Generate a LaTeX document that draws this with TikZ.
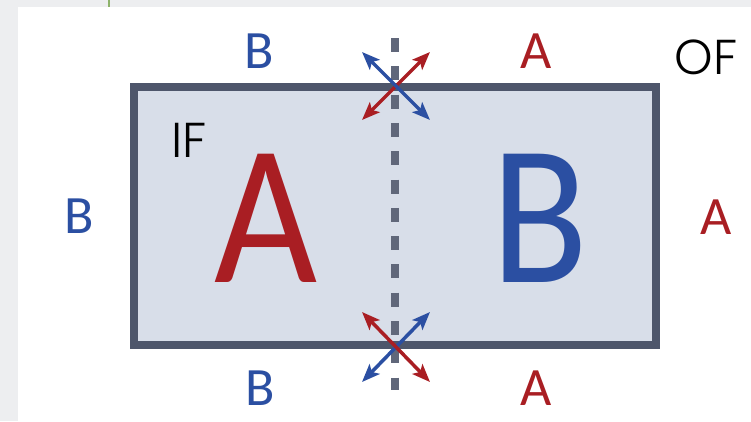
\documentclass[tikz,border=0pt]{standalone}
\usepackage{fontspec}
\setmainfont{Carlito}
\newfontfamily\thinfont{Poppins Light}
\usetikzlibrary{arrows.meta}
\definecolor{redA}{HTML}{A91E23}
\definecolor{blueB}{HTML}{2B4FA2}
\definecolor{edge}{HTML}{4E566B}
\definecolor{inside}{HTML}{D8DEE9}
\definecolor{page}{HTML}{EDEEF0}
\definecolor{tab}{HTML}{8DB26A}
\begin{document}
\begin{tikzpicture}[x=1pt,y=-1pt,
  small/.style={font=\fontsize{54}{54}\selectfont, inner sep=0pt},
  big/.style={font=\fontsize{200}{200}\selectfont, inner sep=0pt},
  tag/.style={font=\thinfont\fontsize{49}{49}\selectfont, inner sep=0pt},
  swap/.style={line width=3.5pt, {Stealth[length=18pt,width=14pt,inset=4pt]}-{Stealth[length=18pt,width=14pt,inset=4pt]}}]
  \useasboundingbox (0,0) rectangle (751,421);
  \fill[page] (0,0) rectangle (751,421);
  \fill[white] (18,7) rectangle (751,421);
  \draw[tab, line width=2pt] (109,0) -- (109,7);
  \node[draw=edge, fill=inside, line width=8.5pt, minimum width=522pt,
    minimum height=258pt, inner sep=0pt] (box) at (395,216) {};
  \coordinate (cut top) at (395,38);
  \coordinate (cut bot) at (395,390);
  \draw[edge!90, line width=8pt, dash pattern=on 14pt off 14.3pt] (cut top) -- (cut bot);
  % swaps at the upper edge
  \coordinate (u1) at (362,120);
  \coordinate (u2) at (430,52);
  \coordinate (u3) at (362,52);
  \coordinate (u4) at (430,120);
  \draw[swap, redA] (u1) -- (u2);
  \draw[swap, blueB] (u3) -- (u4);
  % swaps at the lower edge
  \coordinate (d1) at (362,382);
  \coordinate (d2) at (430,312);
  \coordinate (d3) at (362,312);
  \coordinate (d4) at (430,382);
  \draw[swap, blueB] (d1) -- (d2);
  \draw[swap, redA] (d3) -- (d4);
  \node[small, blueB] (top b) at (259,51) {B};
  \node[small, redA] (top a) at (536,51) {A};
  \node[small, blueB] (left b) at (79,216) {B};
  \node[small, redA] (right a) at (716,217) {A};
  \node[small, blueB] (bot b) at (260,388) {B};
  \node[small, redA] (bot a) at (536,388) {A};
  \node[big, redA] (big a) at (266,218) {\scalebox{0.89}[1]{A}};
  \node[big, blueB] (big b) at (540,218) {\scalebox{0.89}[1]{B}};
  \node[tag] (if) at (189,140) {IF};
  \node[tag] (of) at (706,57) {OF};
\end{tikzpicture}
\end{document}
